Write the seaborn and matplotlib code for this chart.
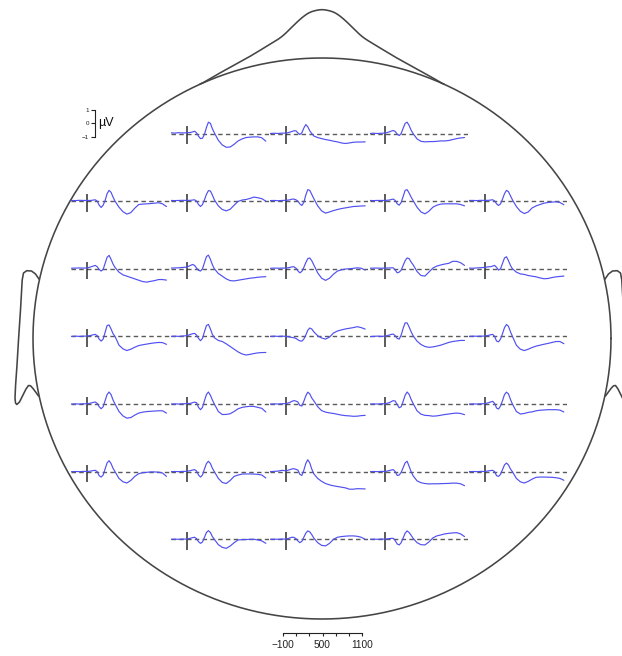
import numpy as np
import pandas as pd
import matplotlib
matplotlib.use("Agg")
import matplotlib.pyplot as plt
import seaborn as sns

sns.set_style("white")
plt.rcParams["font.family"] = ["Liberation Sans", "DejaVu Sans"]

# ---------------- data (µV) ----------------
times = [-200, -150, -100, -50, 0, 50, 75, 100, 125, 150, 175, 200, 225, 250, 275,
         300, 325, 350, 400, 450, 500, 550, 600, 650, 700, 750, 800, 850, 900, 950, 1000]

r1c2 = [0.05,0.03,0.06,0.04,0.05, 0.08,0.12,0.17,0.05,-0.2,-0.38,-0.35,-0.05,0.45,0.84,0.75,0.35,0.05,-0.5,-0.85,-1.02,-1.0,-0.8,-0.55,-0.4,-0.3,-0.27,-0.25,-0.25,-0.32,-0.57]
r1c3 = [0.0,0.02,0.0,0.03,0.02, 0.1,0.15,0.2,0.2,0.05,-0.07,0.05,0.4,0.66,0.5,0.2,0.0,-0.18,-0.3,-0.38,-0.45,-0.5,-0.57,-0.62,-0.7,-0.74,-0.7,-0.65,-0.63,-0.63,-0.62]
r1c4 = [0.0,0.02,0.0,0.02,0.03, 0.12,0.18,0.22,0.15,-0.05,-0.15,0.0,0.4,0.75,0.84,0.6,0.25,0.0,-0.4,-0.58,-0.62,-0.6,-0.6,-0.58,-0.55,-0.55,-0.52,-0.45,-0.38,-0.33,-0.3]

r2c1 = [0.05,0.04,0.06,0.05,0.05, 0.05,0.08,0.1,0.0,-0.3,-0.47,-0.3,0.05,0.55,0.8,0.65,0.3,0.0,-0.45,-0.78,-0.96,-0.85,-0.52,-0.25,-0.22,-0.2,-0.18,-0.15,-0.12,-0.2,-0.4]
r2c2 = [0.05,0.04,0.05,0.06,0.05, 0.06,0.08,0.1,0.0,-0.25,-0.4,-0.25,0.1,0.5,0.78,0.75,0.45,0.1,-0.35,-0.62,-0.72,-0.6,-0.3,-0.02,0.08,0.12,0.2,0.3,0.25,0.18,0.0]
r2c3 = [0.04,0.05,0.03,0.05,0.06, 0.1,0.15,0.15,0.1,0.0,-0.2,-0.32,-0.1,0.45,0.85,0.8,0.5,0.2,-0.35,-0.72,-0.89,-0.8,-0.7,-0.62,-0.55,-0.5,-0.45,-0.4,-0.38,-0.36,-0.35]
r2c4 = [0.05,0.04,0.05,0.05,0.05, 0.08,0.12,0.15,0.05,-0.2,-0.3,-0.1,0.35,0.8,0.85,0.6,0.3,0.05,-0.45,-0.8,-0.94,-0.75,-0.45,-0.3,-0.22,-0.2,-0.2,-0.2,-0.2,-0.25,-0.35]
r2c5 = [0.05,0.05,0.04,0.06,0.05, 0.06,0.08,0.1,0.02,-0.2,-0.32,-0.2,0.15,0.55,0.8,0.7,0.4,0.1,-0.4,-0.75,-0.92,-0.8,-0.5,-0.35,-0.25,-0.15,-0.1,-0.07,-0.05,-0.1,-0.27]

r3c1 = [0.04,0.05,0.06,0.05,0.06, 0.15,0.2,0.25,0.15,-0.05,-0.17,-0.05,0.4,0.85,0.99,0.7,0.35,0.1,-0.25,-0.45,-0.55,-0.65,-0.75,-0.85,-0.95,-0.99,-0.93,-0.88,-0.8,-0.8,-0.84]
r3c2 = [0.05,0.06,0.07,0.1,0.12, 0.25,0.32,0.25,0.05,-0.12,-0.17,0.0,0.45,0.9,1.01,0.7,0.3,0.0,-0.35,-0.55,-0.75,-0.88,-0.9,-0.85,-0.8,-0.75,-0.7,-0.67,-0.63,-0.6,-0.59]
r3c3 = [0.03,0.05,0.04,0.05,0.05, 0.1,0.14,0.15,0.05,-0.15,-0.3,-0.2,0.1,0.45,0.75,0.8,0.6,0.3,-0.3,-0.7,-0.86,-0.7,-0.4,-0.17,-0.08,-0.02,0.0,0.03,0.07,0.04,-0.1]
r3c4 = [0.04,0.05,0.05,0.04,0.05, 0.06,0.07,0.07,-0.1,-0.3,-0.25,-0.1,0.25,0.6,0.8,0.75,0.5,0.3,-0.2,-0.5,-0.54,-0.25,0.05,0.2,0.28,0.35,0.4,0.55,0.55,0.45,0.25]
r3c5 = [0.05,0.04,0.06,0.08,0.1, 0.15,0.15,0.2,0.25,0.1,-0.1,0.0,0.4,0.8,0.89,0.6,0.25,0.0,-0.25,-0.38,-0.42,-0.5,-0.55,-0.6,-0.68,-0.74,-0.72,-0.65,-0.6,-0.57,-0.54]

r4c1 = [0.0,0.02,0.0,0.02,0.02, 0.08,0.12,0.15,0.05,-0.2,-0.35,-0.2,0.3,0.8,0.85,0.55,0.2,0.0,-0.65,-0.92,-1.05,-0.95,-0.8,-0.68,-0.62,-0.57,-0.52,-0.48,-0.45,-0.46,-0.59]
r4c2 = [0.0,0.02,0.0,0.03,0.05, 0.15,0.2,0.22,0.1,-0.15,-0.32,-0.15,0.35,0.8,0.89,0.55,0.15,-0.1,-0.3,-0.38,-0.55,-0.75,-0.95,-1.15,-1.3,-1.38,-1.33,-1.27,-1.22,-1.2,-1.19]
r4c3 = [0.0,0.02,0.0,0.02,0.0, -0.05,-0.08,-0.1,-0.15,-0.25,-0.33,-0.35,-0.2,0.1,0.45,0.62,0.55,0.35,0.05,-0.12,-0.2,-0.05,0.25,0.4,0.48,0.55,0.6,0.65,0.72,0.65,0.54]
r4c4 = [-0.02,0.0,0.02,0.0,0.02, 0.1,0.15,0.17,0.05,-0.15,-0.2,0.1,0.6,1.0,1.0,0.7,0.35,0.05,-0.35,-0.6,-0.75,-0.81,-0.78,-0.72,-0.65,-0.55,-0.45,-0.38,-0.34,-0.3,-0.3]
r4c5 = [0.0,0.02,0.01,0.02,0.02, 0.08,0.12,0.15,0.0,-0.35,-0.4,-0.2,0.2,0.65,0.88,0.75,0.35,0.0,-0.65,-0.95,-1.05,-0.95,-0.82,-0.72,-0.65,-0.58,-0.52,-0.45,-0.38,-0.38,-0.54]

r5c1 = [0.0,0.01,0.0,0.02,0.01, 0.08,0.12,0.15,0.05,-0.2,-0.35,-0.2,0.25,0.7,0.89,0.7,0.3,0.0,-0.55,-0.88,-1.05,-1.0,-0.82,-0.67,-0.6,-0.56,-0.54,-0.52,-0.5,-0.5,-0.67]
r5c2 = [0.0,0.01,0.0,0.02,0.02, 0.05,0.1,0.14,0.1,-0.25,-0.42,-0.25,0.25,0.7,0.89,0.65,0.3,0.0,-0.55,-0.78,-0.77,-0.72,-0.55,-0.35,-0.25,-0.2,-0.17,-0.18,-0.25,-0.32,-0.59]
r5c3 = [0.0,0.01,0.0,0.02,0.03, 0.12,0.2,0.25,0.22,0.15,-0.1,-0.15,0.2,0.6,0.88,0.75,0.45,0.25,-0.2,-0.49,-0.6,-0.66,-0.7,-0.76,-0.82,-0.86,-0.88,-0.91,-0.9,-0.86,-0.84]
r5c4 = [0.0,0.01,0.0,0.02,0.02, 0.1,0.18,0.25,0.22,-0.05,-0.28,-0.2,0.2,0.65,0.89,0.72,0.35,0.05,-0.5,-0.75,-0.84,-0.86,-0.9,-0.88,-0.83,-0.78,-0.74,-0.7,-0.67,-0.7,-0.79]
r5c5 = [0.0,0.01,0.0,0.02,0.02, 0.1,0.15,0.2,0.05,-0.3,-0.37,-0.15,0.25,0.7,0.88,0.75,0.35,0.0,-0.55,-0.74,-0.7,-0.62,-0.58,-0.5,-0.46,-0.44,-0.42,-0.42,-0.42,-0.45,-0.59]

r6c1 = [0.0,0.01,0.0,0.02,0.01, 0.05,0.08,0.1,0.0,-0.3,-0.4,-0.25,0.2,0.65,0.81,0.6,0.25,0.0,-0.5,-0.75,-0.84,-0.65,-0.35,-0.15,-0.08,-0.05,-0.02,-0.02,-0.04,-0.1,-0.35]
r6c2 = [0.0,0.01,0.0,0.02,0.02, 0.08,0.12,0.15,0.05,-0.25,-0.4,-0.25,0.2,0.6,0.77,0.6,0.25,0.0,-0.5,-0.8,-0.88,-0.65,-0.35,-0.25,-0.18,-0.17,-0.17,-0.18,-0.2,-0.25,-0.47]
r6c3 = [0.0,0.02,0.04,0.1,0.06, 0.15,0.2,0.22,0.17,0.12,-0.2,-0.28,0.1,0.6,0.88,0.65,0.2,-0.15,-0.5,-0.72,-0.88,-0.98,-1.05,-1.1,-1.15,-1.2,-1.3,-1.3,-1.26,-1.27,-1.28]
r6c4 = [0.0,0.01,0.0,0.02,0.01, 0.08,0.12,0.15,0.0,-0.28,-0.25,-0.05,0.3,0.65,0.77,0.4,0.0,-0.3,-0.68,-0.82,-0.88,-0.91,-0.9,-0.9,-0.89,-0.88,-0.87,-0.85,-0.85,-0.9,-1.04]
r6c5 = [0.0,0.01,0.0,0.02,0.01, 0.06,0.08,0.1,0.0,-0.3,-0.35,-0.2,0.15,0.5,0.64,0.5,0.2,0.0,-0.5,-0.75,-0.84,-0.72,-0.55,-0.42,-0.4,-0.4,-0.41,-0.42,-0.45,-0.5,-0.64]

r7c2 = [0.0,0.01,0.0,0.02,0.01, 0.08,0.12,0.15,0.05,-0.18,-0.3,-0.2,0.15,0.5,0.64,0.5,0.2,0.0,-0.4,-0.6,-0.67,-0.5,-0.25,-0.05,-0.03,-0.02,0.0,0.0,-0.05,-0.12,-0.3]
r7c3 = [0.0,0.01,0.0,0.02,0.01, 0.1,0.15,0.14,0.05,-0.12,-0.25,-0.15,0.15,0.45,0.62,0.55,0.35,0.1,-0.25,-0.45,-0.49,-0.3,0.0,0.15,0.2,0.23,0.25,0.25,0.22,0.15,0.0]
r7c4 = [0.0,0.01,0.0,0.02,0.01, 0.05,0.07,0.07,-0.1,-0.35,-0.42,-0.25,0.1,0.45,0.62,0.5,0.3,0.08,-0.25,-0.4,-0.42,-0.2,0.1,0.25,0.32,0.4,0.44,0.47,0.49,0.4,0.2]

# electrode grid: (row, column, series)
electrodes = [
    (0, 1, r1c2), (0, 2, r1c3), (0, 3, r1c4),
    (1, 0, r2c1), (1, 1, r2c2), (1, 2, r2c3), (1, 3, r2c4), (1, 4, r2c5),
    (2, 0, r3c1), (2, 1, r3c2), (2, 2, r3c3), (2, 3, r3c4), (2, 4, r3c5),
    (3, 0, r4c1), (3, 1, r4c2), (3, 2, r4c3), (3, 3, r4c4), (3, 4, r4c5),
    (4, 0, r5c1), (4, 1, r5c2), (4, 2, r5c3), (4, 3, r5c4), (4, 4, r5c5),
    (5, 0, r6c1), (5, 1, r6c2), (5, 2, r6c3), (5, 3, r6c4), (5, 4, r6c5),
    (6, 1, r7c2), (6, 2, r7c3), (6, 3, r7c4),
]

time_scale_ticks = [-100, 100, 300, 500, 700, 900, 1100]
time_scale_labels = ["\u2212100", "", "", "500", "", "", "1100"]
amp_scale_ticks = [-1, 0, 1]
amp_scale_labels = ["\u22121", "0", "1"]

# ---------------- layout ----------------
W, H = 622, 656
fig = plt.figure(figsize=(W / 100, H / 100), dpi=100)

def rect(x, y, w, h):
    return [x / W, 1 - (y + h) / H, w / W, h / H]

HEAD = "#454545"
BLUE = "#5050f0"

bg = fig.add_axes([0, 0, 1, 1])
bg.set_xlim(0, W)
bg.set_ylim(H, 0)
bg.axis("off")

# head outline
cx, cy, rx, ry = 322, 338.5, 289, 280.5
th = np.linspace(0, 2 * np.pi, 600)
bg.plot(cx + rx * np.cos(th), cy + ry * np.sin(th), color=HEAD, lw=1.15)

# nose
nd = [0, 13, 23, 40, 73, 113, 122]
ny = [9, 12, 20, 37, 57, 79, 85]
dx = np.linspace(-122, 122, 600)
yy = np.interp(np.abs(dx), nd, ny)
k = np.exp(-0.5 * (np.arange(-30, 31) / 9.0) ** 2)
k /= k.sum()
yy_s = np.convolve(np.pad(yy, 30, mode="edge"), k, mode="same")[30:-30]
bg.plot(cx + dx, yy_s, color=HEAD, lw=1.15)

# ears
ear_x = [39.3, 35.5, 31.5, 26.7, 23.5, 22.2, 20.5, 18.5, 17.0, 15.6, 15.0, 15.5, 16.8, 19.5, 22.5, 26.0, 28.5, 30.5, 33.0, 36.0, 38.5]
ear_y = [279.5, 274.0, 271.0, 270.7, 273.0, 280.0, 310.0, 340.0, 365.0, 385.0, 398.0, 403.0, 404.5, 402.0, 396.0, 389.0, 385.5, 385.8, 388.5, 392.5, 396.0]
bg.plot(ear_x, ear_y, color=HEAD, lw=1.15)
bg.plot([2 * cx - v for v in ear_x], ear_y, color=HEAD, lw=1.15)

# electrode panels
px_per_ms = 95.0 / 1200.0
px_per_uv = 13.5
x_first, x_step = 87.3, 99.35
y_first, y_step = 133.5, 67.63
xlo, xhi = -200, 1040
ylo, yhi = -2.0, 2.0

for row, col, vals in electrodes:
    tx = x_first + col * x_step
    by = y_first + row * y_step
    left = tx + xlo * px_per_ms
    width = (xhi - xlo) * px_per_ms
    top = by - yhi * px_per_uv
    height = (yhi - ylo) * px_per_uv
    ax = fig.add_axes(rect(left, top, width, height))
    ax.axhline(0, color="#5a5a5a", lw=1.0, ls=(0, (3.2, 2.4)), zorder=1)
    ax.vlines(0, -0.78, 0.52, color="#2e2e2e", lw=1.1, zorder=2)
    df = pd.DataFrame({"time": times, "uv": vals})
    sns.lineplot(data=df, x="time", y="uv", ax=ax, color=BLUE, lw=0.85,
                 estimator=None, zorder=3)
    ax.set_xlim(xlo, xhi)
    ax.set_ylim(ylo, yhi)
    ax.axis("off")

# time scale bar
tax = fig.add_axes(rect(283, 628, 79, 5))
tax.set_xlim(-100, 1100)
tax.set_xticks(time_scale_ticks)
tax.set_xticklabels(time_scale_labels, fontsize=7.3)
tax.set_yticks([])
for s in ["top", "left", "right"]:
    tax.spines[s].set_visible(False)
tax.spines["bottom"].set_color("#222222")
tax.spines["bottom"].set_linewidth(0.8)
tax.tick_params(axis="x", direction="out", length=2.2, width=0.8, pad=3.0,
                colors="#222222", bottom=True)
tax.patch.set_alpha(0)
tax.set_xlabel("")

# amplitude scale bar
aax = fig.add_axes(rect(95, 110, 4, 26.7))
aax.set_ylim(-1, 1)
aax.set_yticks(amp_scale_ticks)
aax.set_yticklabels(amp_scale_labels, fontsize=4.5)
aax.set_xticks([])
for s in ["top", "bottom", "right"]:
    aax.spines[s].set_visible(False)
aax.spines["left"].set_color("#222222")
aax.spines["left"].set_linewidth(0.8)
aax.tick_params(axis="y", direction="out", length=2.8, width=0.8, pad=1.5,
                colors="#222222", left=True)
aax.patch.set_alpha(0)
bg.text(98.5, 123.3, "\u00b5V", fontsize=9, ha="left", va="center", color="#111111")

fig.savefig("out.png", dpi=100)
